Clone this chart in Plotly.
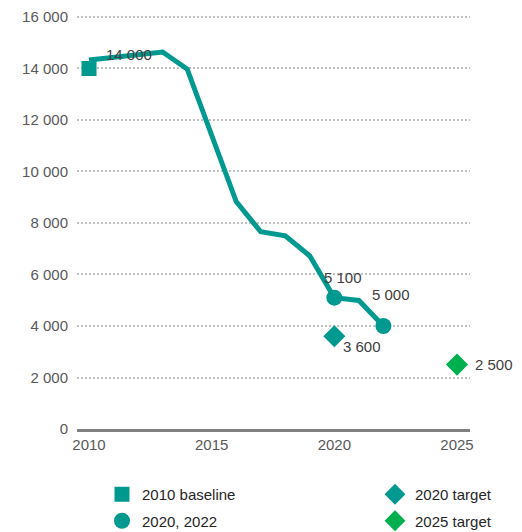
import plotly.graph_objects as go

years = [2010, 2011, 2012, 2013, 2014, 2015, 2016, 2017, 2018, 2019, 2020, 2021, 2022]
values = [14330, 14430, 14540, 14640, 13980, 11400, 8830, 7660, 7500, 6720, 5100, 4990, 4000]

baseline_x = [2010]
baseline_y = [14000]
baseline_lbl = ["14 000"]

actual_x = [2020, 2022]
actual_y = [5100, 4000]
actual_lbl = ["5 100", "5 000"]

t2020_x = [2020]
t2020_y = [3600]
t2020_lbl = ["3 600"]

t2025_x = [2025]
t2025_y = [2500]
t2025_lbl = ["2 500"]

yticks = [0, 2000, 4000, 6000, 8000, 10000, 12000, 14000, 16000]
yticklabels = ["0", "2 000", "4 000", "6 000", "8 000", "10 000", "12 000", "14 000", "16 000"]
xticks = [2010, 2015, 2020, 2025]

TEAL = "#00998F"
GREEN = "#00B04F"
FONT = "Liberation Sans, Arial, sans-serif"
W, H = 522, 532

fig = go.Figure()
fig.add_trace(go.Scatter(x=years, y=values, mode="lines", line=dict(color=TEAL, width=5),
                         showlegend=False, hoverinfo="skip"))
fig.add_trace(go.Scatter(x=baseline_x, y=baseline_y, mode="markers", name="2010 baseline",
                         marker=dict(symbol="square", size=15, color=TEAL), legend="legend",
                         legendgroup="a"))
fig.add_trace(go.Scatter(x=actual_x, y=actual_y, mode="markers", name="2020, 2022",
                         marker=dict(symbol="circle", size=16, color=TEAL), legend="legend",
                         legendgroup="b"))
fig.add_trace(go.Scatter(x=t2020_x, y=t2020_y, mode="markers", name="2020 target",
                         marker=dict(symbol="diamond", size=17, color=TEAL), legend="legend2",
                         legendgroup="c"))
fig.add_trace(go.Scatter(x=t2025_x, y=t2025_y, mode="markers", name="2025 target",
                         marker=dict(symbol="diamond", size=17, color=GREEN), legend="legend2",
                         legendgroup="d"))

ann_font = dict(family=FONT, size=15, color="#404040")
label_sets = [
    (baseline_x, baseline_y, baseline_lbl, [(40, 14)], "center"),
    (actual_x, actual_y, actual_lbl, [(9, 20), (8, 31)], "center"),
    (t2020_x, t2020_y, t2020_lbl, [(28, -10)], "center"),
    (t2025_x, t2025_y, t2025_lbl, [(16, 0)], "left"),
]
for xs, ys, lbls, shifts, anchor in label_sets:
    for x, y, t, (dx, dy) in zip(xs, ys, lbls, shifts):
        fig.add_annotation(x=x, y=y, text=t, showarrow=False, xshift=dx, yshift=dy,
                           font=ann_font, xanchor=anchor)

leg_font = dict(family=FONT, size=15, color="#262626")
fig.update_layout(
    width=W, height=H,
    margin=dict(l=0, r=0, t=0, b=0, autoexpand=False),
    plot_bgcolor="white", paper_bgcolor="white",
    font=dict(family=FONT, size=15, color="#595959"),
    xaxis=dict(domain=[69 / W, 462 / W], range=[2009.51, 2025.53], tickvals=xticks,
               showgrid=False, zeroline=False,
               showline=True, linecolor="#808080", linewidth=3, ticks="",
               tickfont=dict(size=15, color="#595959"), automargin=False),
    yaxis=dict(domain=[(H - 421) / H, 1 - 6.4 / H], range=[0, 16100], tickvals=yticks,
               ticktext=yticklabels, showgrid=True,
               gridcolor="#BFBFBF", griddash="2px,2px", gridwidth=2, zeroline=False,
               showline=False, ticks="", tickfont=dict(size=15, color="#595959"),
               ticklabelstandoff=8, automargin=False),
    legend=dict(x=94 / W, y=1 - 470 / H, xanchor="left", yanchor="top",
                font=leg_font, bgcolor="rgba(0,0,0,0)", tracegroupgap=4),
    legend2=dict(x=367 / W, y=1 - 470 / H, xanchor="left", yanchor="top",
                 font=leg_font, bgcolor="rgba(0,0,0,0)", tracegroupgap=4),
)

fig.write_html("out.html")
